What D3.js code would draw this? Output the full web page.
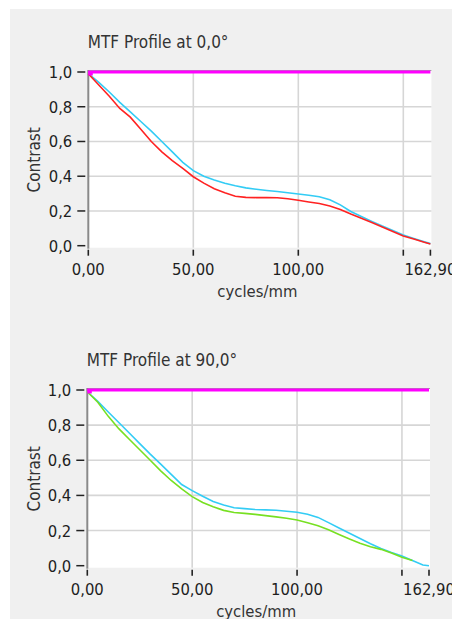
<!DOCTYPE html>
<html>
<head>
<meta charset="utf-8">
<script src="https://cdn.jsdelivr.net/npm/d3@7"></script>
<style>
  html, body { margin: 0; padding: 0; background: #ffffff; }
  svg { display: block; }
  text { font-family: "DejaVu Sans Condensed", "DejaVu Sans", sans-serif; font-stretch: condensed; }
</style>
</head>
<body>
<svg id="chart" width="452" height="619"></svg>
<script>
// ---- data ----
const freq = [0, 5, 10, 15, 20, 25, 30, 35, 40, 45, 50, 55, 60, 65, 70, 75, 80, 85, 90, 95, 100,
              105, 110, 115, 120, 125, 130, 135, 140, 145, 150, 155, 160, 162.9];

const cyan0 = [0.99, 0.94, 0.885, 0.825, 0.77, 0.715, 0.66, 0.60, 0.54, 0.48, 0.432, 0.40, 0.378, 0.36, 0.345,
               0.333, 0.325, 0.318, 0.312, 0.305, 0.298, 0.29, 0.282, 0.265, 0.235, 0.197, 0.168, 0.14,
               0.113, 0.088, 0.062, 0.042, 0.022, 0.012];
const red0 = [0.99, 0.925, 0.86, 0.79, 0.74, 0.67, 0.60, 0.54, 0.49, 0.445, 0.397, 0.36, 0.328, 0.305, 0.285,
              0.278, 0.277, 0.277, 0.276, 0.27, 0.262, 0.252, 0.243, 0.228, 0.208, 0.182, 0.158, 0.133,
              0.108, 0.082, 0.056, 0.038, 0.02, 0.01];

const cyan90 = [0.99, 0.935, 0.875, 0.815, 0.755, 0.695, 0.635, 0.578, 0.52, 0.462, 0.427, 0.395, 0.365, 0.345,
                0.33, 0.325, 0.32, 0.318, 0.316, 0.31, 0.304, 0.293, 0.275, 0.245, 0.215, 0.185, 0.155, 0.125,
                0.098, 0.075, 0.055, 0.03, 0.004, 0.0];
const green90 = [0.99, 0.93, 0.85, 0.78, 0.72, 0.66, 0.60, 0.54, 0.485, 0.437, 0.393, 0.36, 0.335, 0.315,
                 0.303, 0.298, 0.292, 0.285, 0.278, 0.27, 0.26, 0.245, 0.228, 0.205, 0.178, 0.152, 0.128,
                 0.108, 0.093, 0.072, 0.048, 0.03];

const refFreq = [0, 162.9];
const refValues = [1.0, 1.0];

const xTicks = [0, 50, 100, 150, 162.9];
const xTickLabels = ["0,00", "50,00", "100,00", "", "162,90"];
const yTicks = [0, 0.2, 0.4, 0.6, 0.8, 1.0];
const yTickLabels = ["0,0", "0,2", "0,4", "0,6", "0,8", "1,0"];

const titles = ["MTF Profile at 0,0\u00B0", "MTF Profile at 90,0\u00B0"];
const xTitle = "cycles/mm";
const yTitle = "Contrast";

// ---- drawing ----
const svg = d3.select("#chart");
svg.append("rect").attr("x", 10).attr("y", 9).attr("width", 442).attr("height", 610).attr("fill", "#f0f0f0");

function drawPanel(cfg) {
  const x = d3.scaleLinear().domain([0, 162.9]).range([cfg.x0, cfg.x1]);
  const y = d3.scaleLinear().domain([0, 1]).range([cfg.yb, cfg.yt]);
  const g = svg.append("g");

  // plot background
  g.append("rect").attr("x", cfg.x0).attr("y", cfg.yt - 1)
    .attr("width", cfg.x1 - cfg.x0 + 1).attr("height", cfg.yb - cfg.yt + 3).attr("fill", "#ffffff");

  // grid
  g.selectAll(".vg").data(xTicks.slice(1, 4)).enter().append("line")
    .attr("x1", d => x(d)).attr("x2", d => x(d)).attr("y1", cfg.yt).attr("y2", cfg.yb + 2)
    .attr("stroke", "#d6d6d6").attr("stroke-width", 1.6);
  g.selectAll(".hg").data(yTicks.slice(1, 5)).enter().append("line")
    .attr("x1", cfg.x0).attr("x2", cfg.x1 + 1).attr("y1", d => y(d)).attr("y2", d => y(d))
    .attr("stroke", "#d6d6d6").attr("stroke-width", 1.6);

  // top frame line
  g.append("line").attr("x1", cfg.x0).attr("x2", cfg.x1 + 1).attr("y1", cfg.yt - 1.5).attr("y2", cfg.yt - 1.5)
    .attr("stroke", "#a0a0a0").attr("stroke-width", 1);

  // left axis line
  g.append("line").attr("x1", cfg.x0).attr("x2", cfg.x0).attr("y1", cfg.yt - 2).attr("y2", cfg.yb + 3)
    .attr("stroke", "#8a8a8a").attr("stroke-width", 2);

  // y ticks
  g.selectAll(".yt").data(yTicks).enter().append("line")
    .attr("x1", cfg.x0 - 11).attr("x2", cfg.x0 - 3).attr("y1", d => y(d)).attr("y2", d => y(d))
    .attr("stroke", "#222").attr("stroke-width", 1.5);
  g.selectAll(".ytl").data(yTicks).enter().append("text")
    .attr("x", cfg.x0 - 16).attr("y", d => y(d)).attr("dy", "0.36em")
    .attr("text-anchor", "end").attr("font-size", 16.5).attr("fill", "#1e1e1e")
    .text((d, i) => yTickLabels[i]);

  // x ticks
  g.selectAll(".xt").data(xTicks).enter().append("line")
    .attr("x1", d => x(d)).attr("x2", d => x(d)).attr("y1", cfg.yb + 4).attr("y2", cfg.yb + 10)
    .attr("stroke", "#222").attr("stroke-width", 1.6);
  g.selectAll(".xtl").data(xTicks).enter().append("text")
    .attr("x", d => x(d)).attr("y", cfg.yb + 29)
    .attr("text-anchor", "middle").attr("font-size", 16.5).attr("fill", "#1e1e1e")
    .text((d, i) => xTickLabels[i]);

  // titles
  g.append("text").attr("x", cfg.x0 - 0.5).attr("y", cfg.titleY)
    .attr("font-size", 17).attr("fill", "#333")
    .text(cfg.title);
  g.append("text").attr("x", (cfg.x0 + cfg.x1) / 2 - 2).attr("y", cfg.yb + 51)
    .attr("text-anchor", "middle").attr("font-size", 16.5).attr("fill", "#333")
    .text(xTitle);
  g.append("text")
    .attr("transform", `translate(${40},${(cfg.yt + cfg.yb) / 2 + 1}) rotate(-90)`)
    .attr("text-anchor", "middle").attr("font-size", 17).attr("fill", "#333")
    .text(yTitle);

  // series
  const line = d3.line().x(d => x(d[0])).y(d => y(d[1]));
  cfg.series.forEach(s => {
    const pts = s.values.map((v, i) => [s.freq[i], v]);
    g.append("path").datum(pts).attr("d", line)
      .attr("fill", "none").attr("stroke", s.color).attr("stroke-width", s.width);
  });

  // reference marker at origin
  g.append("rect").attr("x", x(refFreq[0])).attr("y", y(refValues[0]) - 1)
    .attr("width", 4.5).attr("height", 4.5).attr("fill", "#ff00ff");
}

drawPanel({
  x0: 88.3, x1: 430.4, yt: 72, yb: 245.7, titleY: 48, title: titles[0],
  series: [
    { freq: freq, values: cyan0, color: "#33ccf5", width: 1.6 },
    { freq: freq, values: red0, color: "#ff2222", width: 1.6 },
    { freq: refFreq, values: refValues, color: "#ff00ff", width: 3 }
  ]
});

drawPanel({
  x0: 87.3, x1: 429, yt: 390, yb: 565.7, titleY: 366, title: titles[1],
  series: [
    { freq: freq, values: cyan90, color: "#33ccf5", width: 1.6 },
    { freq: freq.slice(0, green90.length), values: green90, color: "#77e022", width: 1.6 },
    { freq: refFreq, values: refValues, color: "#ff00ff", width: 3 }
  ]
});
</script>
</body>
</html>
